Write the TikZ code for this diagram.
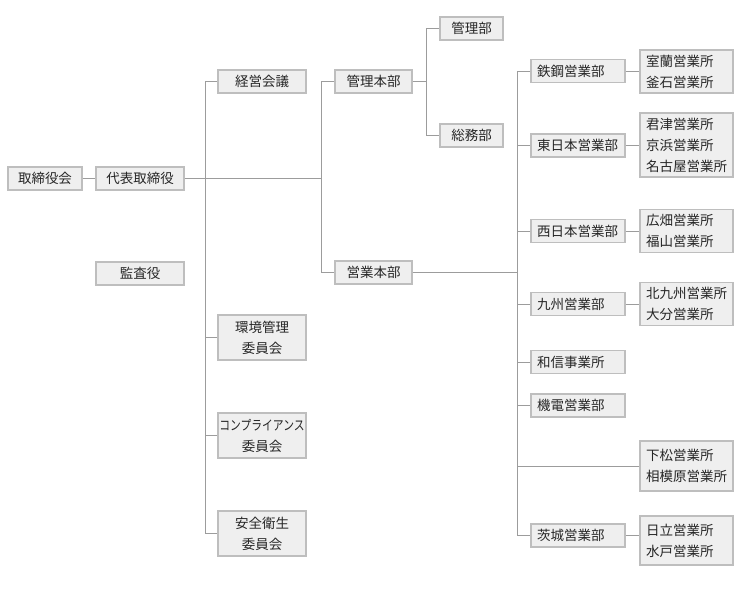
\documentclass[tikz,border=0pt]{standalone}
\usepackage{fontspec}
\setmainfont{Noto Sans CJK JP}
\usetikzlibrary{calc}

\definecolor{boxfill}{HTML}{EFEFEF}
\definecolor{boxline}{HTML}{BEBEBE}
\definecolor{wire}{HTML}{9C9C9C}
\definecolor{ink}{HTML}{262626}

\tikzset{
	unit/.style = {draw = boxline, fill = boxfill, line width = 1.3pt, text = ink,
		inner sep = 0pt, minimum height = 23pt, align = center,
		font = \fontsize{13.5}{21}\selectfont},
	division/.style = {unit, inner xsep = 6pt, text width = 82pt, align = left},
	office/.style = {unit, inner xsep = 6pt, text width = 81pt, align = left},
	connector/.style = {draw = wire, line width = 1pt}
}

\begin{document}
\begin{tikzpicture}[x = 1pt, y = -1pt]
			\useasboundingbox (0,0) rectangle (740,600);

			\def\xCOM{205};
			\def\xHQ{321};
			\def\xADM{426};
			\def\xSAL{517};

			\coordinate (comspine) at (\xCOM,0);
			\coordinate (hqspine) at (\xHQ,0);
			\coordinate (admspine) at (\xADM,0);
			\coordinate (salspine) at (\xSAL,0);

			% top of the company
			\node [unit, minimum width = 74pt] (board) at (45,178.5) {取締役会};
			\node [unit, minimum width = 88pt] (ceo) at (140,178.5) {代表取締役};
			\node [unit, minimum width = 88pt] (auditor) at (140,273.5) {監査役};

			% committees
			\node [unit, minimum width = 88pt] (keiei) at (262,81.5) {経営会議};
			\node [unit, minimum width = 88pt, minimum height = 45pt] (kankyo) at (262,337.5) {環境管理\\委員会};
			\node [unit, minimum width = 88pt, minimum height = 45pt] (compliance) at (262,435.5) {\scalebox{0.8}[1]{コンプライアンス}\\委員会};
			\node [unit, minimum width = 88pt, minimum height = 45pt] (anzen) at (262,533.5) {安全衛生\\委員会};

			% head offices
			\node [unit, minimum width = 77pt] (adminhq) at (373.5,81.5) {管理本部};
			\node [unit, minimum width = 77pt] (saleshq) at (373.5,272.5) {営業本部};
			\node [unit, minimum width = 63pt] (kanri) at (471.5,28.5) {管理部};
			\node [unit, minimum width = 63pt] (somu) at (471.5,135.5) {総務部};

			% sales divisions
			\node [division] (tekko) at (578,71) {鉄鋼営業部};
			\node [division] (higashi) at (578,145.5) {東日本営業部};
			\node [division] (nishi) at (578,231) {西日本営業部};
			\node [division] (kyushu) at (578,304) {九州営業部};
			\node [division] (washin) at (578,362) {和信事業所};
			\node [division] (kiden) at (578,405.5) {機電営業部};
			\node [division] (ibaraki) at (578,535.5) {茨城営業部};

			% branch offices
			\node [office, minimum height = 43pt] (muroran) at (686.5,71.5) {室蘭営業所\\釜石営業所};
			\node [office, minimum height = 64pt] (kimitsu) at (686.5,145) {君津営業所\\京浜営業所\\名古屋営業所};
			\node [office, minimum height = 43pt] (hirohata) at (686.5,231) {広畑営業所\\福山営業所};
			\node [office, minimum height = 43pt] (kitakyushu) at (686.5,304) {北九州営業所\\大分営業所};
			\node [office, minimum height = 50pt] (kudamatsu) at (686.5,466) {下松営業所\\相模原営業所};
			\node [office, minimum height = 49pt] (hitachi) at (686.5,540.5) {日立営業所\\水戸営業所};

			\begin{scope}[connector]
				\draw (board) -- (ceo);
				\draw (ceo.east) -- (ceo.east -| hqspine);

				\draw (keiei.west) -- (keiei.west -| comspine) |- (anzen.west);
				\draw (kankyo.west) -- (kankyo.west -| comspine);
				\draw (compliance.west) -- (compliance.west -| comspine);

				\draw (adminhq.west) -- (adminhq.west -| hqspine) |- (saleshq.west);

				\draw (kanri.west) -- (kanri.west -| admspine) |- (somu.west);
				\draw (adminhq.east) -- (adminhq.east -| admspine);
			\end{scope}

			\begin{scope}[connector]
				\draw (saleshq.east) -- (saleshq.east -| salspine);
				\draw (tekko.west) -- (tekko.west -| salspine) |- (ibaraki.west);
				\draw (higashi.west) -- (higashi.west -| salspine);
				\draw (nishi.west) -- (nishi.west -| salspine);
				\draw (kyushu.west) -- (kyushu.west -| salspine);
				\draw (washin.west) -- (washin.west -| salspine);
				\draw (kiden.west) -- (kiden.west -| salspine);
				\draw (kudamatsu.west) -- (kudamatsu.west -| salspine);

				\draw (tekko.east) -- (tekko.east -| muroran.west);
				\draw (higashi.east) -- (higashi.east -| kimitsu.west);
				\draw (nishi.east) -- (nishi.east -| hirohata.west);
				\draw (kyushu.east) -- (kyushu.east -| kitakyushu.west);
				\draw (ibaraki.east) -- (ibaraki.east -| hitachi.west);
			\end{scope}
		\end{tikzpicture}
\end{document}
